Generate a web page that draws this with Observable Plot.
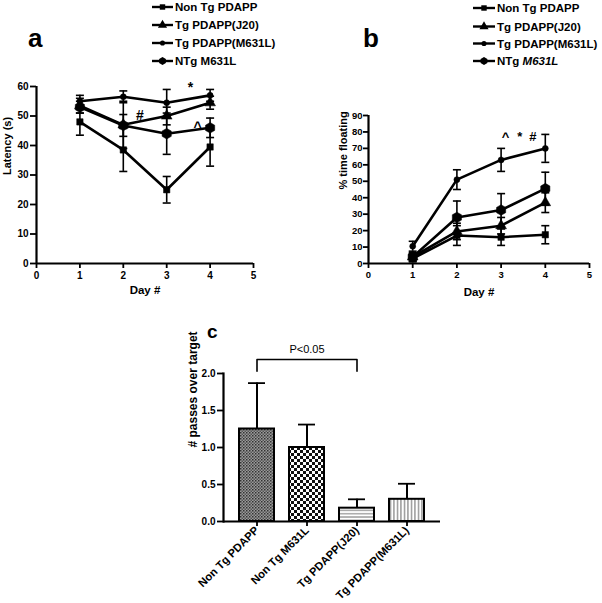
<!DOCTYPE html>
<html><head><meta charset="utf-8">
<script src="https://cdn.jsdelivr.net/npm/d3@7"></script>
<script src="https://cdn.jsdelivr.net/npm/@observablehq/plot@0.6"></script>
<style>
body{margin:0;background:#fff;}
#fig{position:relative;width:602px;height:603px;overflow:hidden;font-family:"Liberation Sans",Arial,sans-serif;color:#000;background:#fff;}
#fig > svg, #fig > .panel{position:absolute;}
#fig svg [aria-label$="tick"]{stroke-width:1.8px;}
</style></head><body><div id="fig"></div>
<script>
const FONT = '"Liberation Sans", Arial, sans-serif';

// ---------- shared ----------
const days = [1, 2, 3, 4];
const dayTicks = [0, 1, 2, 3, 4, 5];
const groups = ["Non Tg PDAPP", "Tg PDAPP(J20)", "Tg PDAPP(M631L)", "NTg M631L"];
const groupSymbols = ["square", "triangle", "circle", "hexagon"];
const groupRadius = [3.6, 4, 3, 4.6];

// ---------- panel a: latency (s) ----------
const latNonTgPDAPP = [48, 38.5, 25, 39.5];
const latNonTgPDAPPErr = [4.5, 7.3, 4.5, 6.5];
const latJ20 = [53.5, 47, 50, 54.5];
const latJ20Err = [2.5, 8, 3, 2.2];
const latM631L = [55, 56.5, 54.5, 57];
const latM631LErr = [2, 2, 4.5, 2];
const latNTgM631L = [53, 46.8, 44, 46];
const latNTgM631LErr = [2, 3.7, 7, 3.3];
const latTicks = [0, 10, 20, 30, 40, 50, 60];
const annotA = [{x: 3.55, y: 59.5, t: "*"}, {x: 2.38, y: 50.3, t: "#"}, {x: 3.71, y: 46.2, t: "^"}];

// ---------- panel b: % time floating ----------
const floNonTgPDAPP = [3, 17, 16, 17.5];
const floNonTgPDAPPErr = [2, 6, 5, 5.5];
const floJ20 = [4, 19.5, 23, 37];
const floJ20Err = [2, 5, 5, 6];
const floM631L = [10.5, 51, 63, 70];
const floM631LErr = [3, 6, 7, 8.5];
const floNTgM631L = [4, 28, 32.5, 45.5];
const floNTgM631LErr = [2.5, 10, 10, 10];
const floTicks = [0, 10, 20, 30, 40, 50, 60, 70, 80, 90];
const annotB = [{x: 3.1, y: 77, t: "^"}, {x: 3.42, y: 77, t: "*"}, {x: 3.72, y: 77, t: "#"}];

// ---------- panel c: # passes over target ----------
const barGroups = ["Non Tg PDAPP", "Non Tg M631L", "Tg PDAPP(J20)", "Tg PDAPP(M631L)"];
const barMeans = [1.25, 1.0, 0.18, 0.3];
const barErrs = [0.62, 0.31, 0.12, 0.21];
const barPatterns = ["pFine", "pChecker", "pHoriz", "pVert"];
const passTicks = [0, 0.5, 1.0, 1.5, 2.0];

function tidy(means, errs) {
  const rows = [];
  groups.forEach((g, gi) => days.forEach((d, di) => rows.push({group: g, gi, day: d, mean: means[gi][di], err: errs[gi][di]})));
  return rows;
}
const latRows = tidy([latNonTgPDAPP, latJ20, latM631L, latNTgM631L], [latNonTgPDAPPErr, latJ20Err, latM631LErr, latNTgM631LErr]);
const floRows = tidy([floNonTgPDAPP, floJ20, floM631L, floNTgM631L], [floNonTgPDAPPErr, floJ20Err, floM631LErr, floNTgM631LErr]);
const barRows = barGroups.map((g, i) => ({group: g, mean: barMeans[i], err: barErrs[i], pattern: `url(#${barPatterns[i]})`}));

const capSymbol = {draw(ctx, size) { const w = Math.sqrt(size / Math.PI); ctx.moveTo(-w, 0); ctx.lineTo(w, 0); }};

function lineMarks(rows) {
  const marks = [
    Plot.ruleX(rows, {x: "day", y1: d => d.mean - d.err, y2: d => d.mean + d.err, stroke: "black", strokeWidth: 1.6}),
    Plot.dot(rows, {x: "day", y: d => d.mean + d.err, symbol: capSymbol, r: 4, stroke: "black", strokeWidth: 1.6, fill: "none"}),
    Plot.dot(rows, {x: "day", y: d => d.mean - d.err, symbol: capSymbol, r: 4, stroke: "black", strokeWidth: 1.6, fill: "none"}),
    Plot.line(rows, {x: "day", y: "mean", z: "group", stroke: "black", strokeWidth: 2.6})
  ];
  groups.forEach((g, gi) => marks.push(
    Plot.dot(rows.filter(d => d.gi === gi), {x: "day", y: "mean", symbol: groupSymbols[gi], r: groupRadius[gi], fill: "black", stroke: "black", strokeWidth: 0.5})
  ));
  return marks;
}

const fig = document.getElementById("fig");
const baseStyle = {fontFamily: FONT, fontSize: "10px", fontWeight: "bold", background: "transparent", overflow: "visible", color: "#000"};
const intFmt = d => String(d);

// ---------- panel a ----------
const plotA = Plot.plot({
  width: 300, height: 305,
  marginTop: 86, marginBottom: 42, marginLeft: 36, marginRight: 47,
  style: baseStyle,
  x: {domain: [0, 5], ticks: dayTicks, tickFormat: intFmt, tickSize: 5, tickPadding: 3, label: null},
  y: {domain: [0, 60], ticks: latTicks, tickFormat: intFmt, tickSize: 6, tickPadding: 2, label: null},
  marks: [
    Plot.ruleX([0], {strokeWidth: 2.2}),
    Plot.ruleY([0], {strokeWidth: 2.2}),
    ...lineMarks(latRows),
    Plot.text(annotA, {x: "x", y: "y", text: "t", fontSize: 14, fontWeight: "bold"}),
    Plot.text(["Latency (s)"], {frameAnchor: "left", rotate: -90, dx: -29, fontSize: 11, fontWeight: "bold"}),
    Plot.text(["Day #"], {frameAnchor: "bottom", dy: 30, fontSize: 11.5, fontWeight: "bold"})
  ]
});
plotA.style.left = "0px"; plotA.style.top = "0px";
fig.appendChild(plotA);

// ---------- panel b ----------
const plotB = Plot.plot({
  width: 302, height: 305,
  marginTop: 115, marginBottom: 42, marginLeft: 68, marginRight: 13,
  style: {...baseStyle, fontSize: "9.5px"},
  x: {domain: [0, 5], ticks: dayTicks, tickFormat: intFmt, tickSize: 5, tickPadding: 3, label: null},
  y: {domain: [0, 90], ticks: floTicks, tickFormat: intFmt, tickSize: 5, tickPadding: 1, label: null},
  marks: [
    Plot.ruleX([0], {strokeWidth: 2.2}),
    Plot.ruleY([0], {strokeWidth: 2.2}),
    ...lineMarks(floRows),
    Plot.text(annotB, {x: "x", y: "y", text: "t", fontSize: 13, fontWeight: "bold"}),
    Plot.text(["% time floating"], {frameAnchor: "left", rotate: -90, dx: -25, fontSize: 11, fontWeight: "bold"}),
    Plot.text(["Day #"], {frameAnchor: "bottom", dy: 32, fontSize: 11.5, fontWeight: "bold"})
  ]
});
plotB.style.left = "300px"; plotB.style.top = "0px";
fig.appendChild(plotB);

// ---------- panel c ----------
const bracket = [
  {group: barGroups[0], y: 2.03}, {group: barGroups[0], y: 2.19},
  {group: barGroups[2], y: 2.19}, {group: barGroups[2], y: 2.03}
];
const plotC = Plot.plot({
  width: 302, height: 303,
  marginTop: 73, marginBottom: 82, marginLeft: 73, marginRight: 12,
  style: baseStyle,
  x: {domain: barGroups, padding: 0.31, tickRotate: -45, tickSize: 5, tickPadding: 2, label: null},
  y: {domain: [0, 2], ticks: passTicks, tickFormat: d3.format(".1f"), tickSize: 6, tickPadding: 2, label: null},
  color: {type: "identity"},
  marks: [
    Plot.barY(barRows, {x: "group", y: "mean", fill: "pattern", stroke: "black", strokeWidth: 2}),
    Plot.ruleX(barRows, {x: "group", y1: "mean", y2: d => d.mean + d.err, stroke: "black", strokeWidth: 2}),
    Plot.tickY(barRows, {x: "group", y: d => d.mean + d.err, stroke: "black", strokeWidth: 2, insetLeft: 9, insetRight: 9}),
    Plot.ruleY([0], {strokeWidth: 2.2}),
    Plot.frame({anchor: "left", strokeWidth: 2.2}),
    Plot.line(bracket, {x: "group", y: "y", stroke: "black", strokeWidth: 1.6}),
    Plot.text(["P<0.05"], {x: [barGroups[1]], y: [2.33], fontSize: 11, fontWeight: "normal"}),
    Plot.text(["# passes over target"], {frameAnchor: "left", rotate: -90, dx: -30, fontSize: 12, fontWeight: "bold"})
  ]
});
plotC.style.left = "150px"; plotC.style.top = "300px";
plotC.querySelectorAll('[aria-label="x-axis tick label"] text').forEach(t => t.setAttribute("font-size", "11.2px"));
fig.appendChild(plotC);

// patterns for the bars
const defs = d3.select(plotC).insert("defs", ":first-child");
const pF = defs.append("pattern").attr("id", "pFine").attr("patternUnits", "userSpaceOnUse").attr("width", 3).attr("height", 3);
pF.append("rect").attr("width", 3).attr("height", 3).attr("fill", "#9a9a9a");
pF.append("rect").attr("width", 1.5).attr("height", 1.5).attr("fill", "#333");
pF.append("rect").attr("x", 1.5).attr("y", 1.5).attr("width", 1.5).attr("height", 1.5).attr("fill", "#555");
const pC = defs.append("pattern").attr("id", "pChecker").attr("patternUnits", "userSpaceOnUse").attr("width", 6).attr("height", 6);
pC.append("rect").attr("width", 6).attr("height", 6).attr("fill", "#fff");
pC.append("rect").attr("width", 3).attr("height", 3).attr("fill", "#111");
pC.append("rect").attr("x", 3).attr("y", 3).attr("width", 3).attr("height", 3).attr("fill", "#111");
const pH = defs.append("pattern").attr("id", "pHoriz").attr("patternUnits", "userSpaceOnUse").attr("width", 4).attr("height", 3.3);
pH.append("rect").attr("width", 4).attr("height", 3.3).attr("fill", "#fff");
pH.append("rect").attr("y", 2).attr("width", 4).attr("height", 1).attr("fill", "#777");
const pV = defs.append("pattern").attr("id", "pVert").attr("patternUnits", "userSpaceOnUse").attr("width", 3.5).attr("height", 4);
pV.append("rect").attr("width", 3.5).attr("height", 4).attr("fill", "#fff");
pV.append("rect").attr("x", 2).attr("width", 1).attr("height", 4).attr("fill", "#666");

// ---------- overlay: panel tags and legends ----------
const ov = d3.select(fig).append("svg").attr("width", 602).attr("height", 603)
  .style("left", "0px").style("top", "0px").style("pointer-events", "none")
  .attr("font-family", FONT).attr("font-weight", "bold");

const tags = [{t: "a", x: 28, y: 47, s: 26}, {t: "b", x: 363, y: 47, s: 26}, {t: "c", x: 207, y: 338, s: 19}];
ov.selectAll("text.tag").data(tags).join("text").attr("class", "tag")
  .attr("x", d => d.x).attr("y", d => d.y).attr("font-size", d => d.s).text(d => d.t);

function hexPath(r) {
  return d3.range(6).map(i => { const a = Math.PI / 6 + i * Math.PI / 3; return [r * Math.cos(a), r * Math.sin(a)]; })
    .map((p, i) => (i ? "L" : "M") + p[0].toFixed(2) + "," + p[1].toFixed(2)).join("") + "Z";
}
const d3Sym = {square: d3.symbolSquare, triangle: d3.symbolTriangle, circle: d3.symbolCircle};
function drawLegend(x0, x1, tx, ys, italicLast) {
  groups.forEach((g, i) => {
    const y = ys[i];
    const gg = ov.append("g");
    gg.append("line").attr("x1", x0).attr("x2", x1).attr("y1", y).attr("y2", y).attr("stroke", "black").attr("stroke-width", 2.4);
    const cx = (x0 + x1) / 2, r = groupRadius[i] * 0.85;
    const p = groupSymbols[i] === "hexagon" ? hexPath(r) : d3.symbol(d3Sym[groupSymbols[i]], r * r * Math.PI)();
    gg.append("path").attr("d", p).attr("transform", `translate(${cx},${y})`).attr("fill", "black");
    const t = gg.append("text").attr("x", tx).attr("y", y + 4).attr("font-size", 11.5);
    if (italicLast && g === "NTg M631L") {
      t.append("tspan").text("NTg ");
      t.append("tspan").attr("font-style", "italic").text("M631L");
    } else t.text(g);
  });
}
drawLegend(152, 173, 175, [7, 25, 43, 61], false);
drawLegend(473, 495, 497, [8, 26.5, 43.5, 61], true);
</script></body></html>
